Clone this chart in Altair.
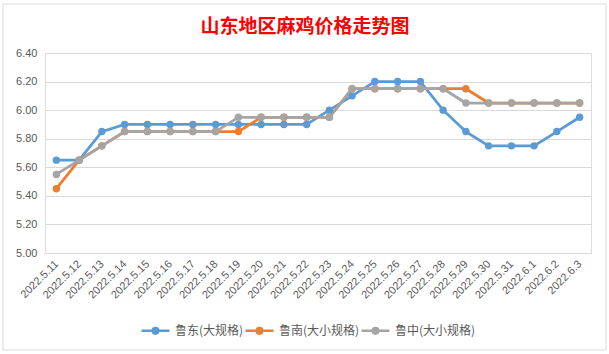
import altair as alt
import pandas as pd

dates = ["2022.5.11", "2022.5.12", "2022.5.13", "2022.5.14", "2022.5.15", "2022.5.16",
         "2022.5.17", "2022.5.18", "2022.5.19", "2022.5.20", "2022.5.21", "2022.5.22",
         "2022.5.23", "2022.5.24", "2022.5.25", "2022.5.26", "2022.5.27", "2022.5.28",
         "2022.5.29", "2022.5.30", "2022.5.31", "2022.6.1", "2022.6.2", "2022.6.3"]
ludong = [5.65, 5.65, 5.85, 5.90, 5.90, 5.90, 5.90, 5.90, 5.90, 5.90, 5.90, 5.90,
          6.00, 6.10, 6.20, 6.20, 6.20, 6.00, 5.85, 5.75, 5.75, 5.75, 5.85, 5.95]
lunan = [5.45, 5.65, 5.75, 5.85, 5.85, 5.85, 5.85, 5.85, 5.85, 5.95, 5.95, 5.95,
         5.95, 6.15, 6.15, 6.15, 6.15, 6.15, 6.15, 6.05, 6.05, 6.05, 6.05, 6.05]
luzhong = [5.55, 5.65, 5.75, 5.85, 5.85, 5.85, 5.85, 5.85, 5.95, 5.95, 5.95, 5.95,
           5.95, 6.15, 6.15, 6.15, 6.15, 6.15, 6.05, 6.05, 6.05, 6.05, 6.05, 6.05]
series_names = ["鲁东(大规格)", "鲁南(大小规格)", "鲁中(大小规格)"]
colors = ["#5B9BD5", "#ED7D31", "#A5A5A5"]
title_text = "山东地区麻鸡价格走势图"

rows = []
for k, (name, vals) in enumerate(zip(series_names, [ludong, lunan, luzhong])):
    for d, v in zip(dates, vals):
        rows.append({"date": d, "price": v, "series": name, "order": k})
df = pd.DataFrame(rows)

scale = alt.Scale(domain=series_names, range=colors)
xenc = alt.X("date:N", sort=dates, scale=alt.Scale(padding=0.5),
             axis=alt.Axis(title=None, labelAngle=-45, labelAlign="right", labelBaseline="middle",
                           labelFont="Liberation Sans", labelFontSize=11, labelColor="#595959",
                           ticks=False, domainColor="#D9D9D9", labelPadding=9, grid=False))
yenc = alt.Y("price:Q", scale=alt.Scale(domain=[5.0, 6.4], nice=False, zero=False),
             axis=alt.Axis(title=None, values=[5.0, 5.2, 5.4, 5.6, 5.8, 6.0, 6.2, 6.4], format=".2f",
                           labelFont="Liberation Sans", labelFontSize=11, labelColor="#595959",
                           domain=False, ticks=False, gridColor="#D9D9D9", labelPadding=8))

symbol_path = ("M-1,0L1,0"
               "M-0.2,0A0.2,0.2 0 1,0 0.2,0A0.2,0.2 0 1,0 -0.2,0"
               "M-0.1,0A0.1,0.1 0 1,0 0.1,0A0.1,0.1 0 1,0 -0.1,0")
legend = alt.Legend(orient="none", legendX=95, legendY=262, direction="horizontal",
                    symbolType=symbol_path, symbolSize=784, symbolStrokeWidth=2.5,
                    labelFont="Noto Sans CJK SC", labelFontSize=12, labelColor="#595959",
                    labelOffset=4, columnPadding=-9, title=None)

lines = alt.Chart(df).mark_line(strokeWidth=2.75).encode(
    x=xenc, y=yenc,
    color=alt.Color("series:N", scale=scale, legend=legend, title=None),
    order=alt.Order("order:Q"),
    detail="series:N",
)

points = alt.Chart(df).mark_circle(size=55, opacity=1).encode(
    x=xenc, y=yenc,
    color=alt.Color("series:N", scale=scale, legend=None),
    order=alt.Order("order:Q"),
)

base1 = alt.Chart(pd.DataFrame({"t": [title_text]}))
border = base1.mark_rect(fill=None, stroke="#D9D9D9", strokeWidth=1).encode(
    x=alt.value(-42), x2=alt.value(561), y=alt.value(-49), y2=alt.value(297)
)
title = base1.mark_text(font="Noto Sans CJK SC", fontSize=19, fontWeight="bold", color="#FF0000",
                        align="center", baseline="middle").encode(
    text="t:N", x=alt.value(260), y=alt.value(-26)
)

chart = alt.layer(border, title, lines, points).properties(
    width=546, height=200,
    autosize=alt.AutoSizeParams(type="none"),
    padding={"left": 45, "top": 53, "right": 18, "bottom": 101},
).configure_view(stroke=None).configure(background="white")

chart.save("out.html", embed_options={"renderer": "svg", "actions": False})
